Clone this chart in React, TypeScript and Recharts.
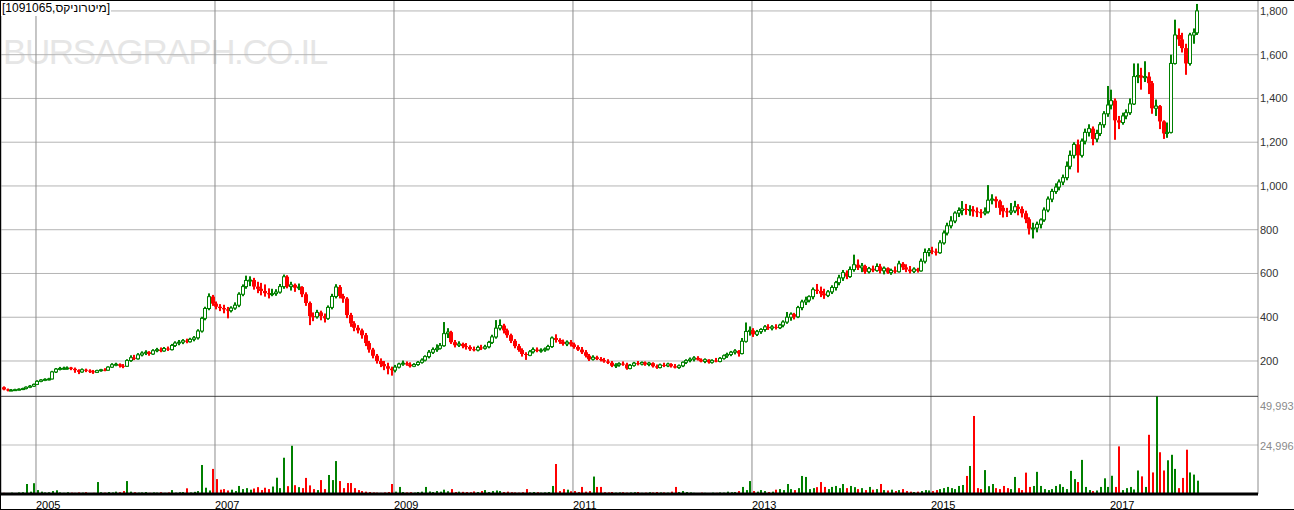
import { ComposedChart, Bar, XAxis, YAxis, CartesianGrid, ReferenceLine } from 'recharts';

// [open, high, low, close, volume] per half-month candle
type Row = [number, number, number, number, number];

const FONT = '"Liberation Sans", Arial, sans-serif';
const UP = '#008000';
const DOWN = '#ff0000';

const TITLE = '[1091065,מיטרוניקס]';
const WATERMARK = 'BURSAGRAPH.CO.IL';

const SLOTS_PER_YEAR = 24;
const YEAR_TICKS = [2005, 2007, 2009, 2011, 2013, 2015, 2017];
const PRICE_TICKS = [200, 400, 600, 800, 1000, 1200, 1400, 1600, 1800];
const VOLUME_TICKS = [24996, 49993];
const TIME_DOMAIN: [number, number] = [2004.609, 2018.654];
const PRICE_DOMAIN: [number, number] = [40, 1850];
const VOLUME_DOMAIN: [number, number] = [0, 49993];

const candles2004: Row[] = [
  [80, 84, 66, 70, 600], [70, 74, 61, 66, 400], [66, 72, 62, 67, 700], [67, 73, 63, 69, 500],
  [69, 75, 65, 71, 800], [71, 78, 67, 74, 900], [74, 84, 70, 80, 5100], [80, 90, 76, 85, 1200],
  [85, 97, 81, 93, 5500],
];

const candles2005: Row[] = [
  [93, 112, 90, 107, 2000], [107, 117, 103, 113, 1200], [113, 121, 108, 116, 800], [116, 123, 111, 118, 900],
  [118, 155, 115, 150, 1500], [150, 168, 145, 163, 1900], [163, 173, 157, 166, 800], [166, 174, 159, 167, 600],
  [167, 175, 160, 168, 900], [170, 173, 158, 164, 700], [164, 170, 146, 158, 600], [158, 162, 140, 150, 800],
  [150, 166, 146, 160, 700], [160, 165, 149, 156, 900], [156, 162, 145, 153, 500], [153, 159, 141, 148, 600],
  [148, 160, 145, 156, 6100], [156, 164, 151, 160, 900], [160, 167, 153, 158, 700], [158, 176, 155, 172, 1000],
  [172, 190, 168, 183, 800], [183, 192, 176, 185, 1200], [185, 189, 170, 178, 900], [178, 186, 167, 176, 1500],
];

const candles2006: Row[] = [
  [176, 208, 173, 202, 6600], [202, 226, 196, 215, 1200], [215, 228, 204, 210, 900], [210, 236, 206, 228, 700],
  [228, 244, 221, 236, 800], [236, 249, 227, 240, 1000], [240, 245, 224, 232, 600], [232, 254, 228, 247, 800],
  [247, 260, 240, 252, 700], [252, 262, 240, 246, 900], [246, 264, 242, 257, 600], [257, 266, 246, 252, 800],
  [252, 278, 248, 271, 2000], [271, 290, 264, 282, 700], [282, 296, 272, 286, 900], [286, 300, 277, 293, 1000],
  [293, 302, 281, 288, 2900], [288, 306, 284, 299, 800], [299, 314, 290, 306, 1100], [306, 345, 298, 337, 1500],
  [337, 402, 330, 395, 14800], [395, 448, 386, 440, 3200], [440, 509, 432, 494, 1800], [494, 502, 452, 462, 12800],
];

const candles2007: Row[] = [
  [462, 472, 436, 448, 7600], [448, 460, 428, 442, 2200], [442, 457, 418, 436, 2500], [436, 447, 395, 430, 1800],
  [430, 450, 422, 442, 2200], [442, 468, 434, 455, 1500], [455, 514, 446, 505, 4100], [505, 550, 496, 540, 2500],
  [540, 590, 530, 568, 3000], [568, 587, 542, 570, 2200], [570, 580, 526, 540, 2800], [540, 562, 510, 530, 3500],
  [530, 557, 500, 520, 2000], [520, 550, 494, 510, 3200], [510, 532, 486, 505, 2500], [505, 530, 496, 508, 3800],
  [508, 528, 498, 515, 8300], [515, 552, 508, 540, 3000], [540, 595, 530, 585, 18500], [585, 592, 532, 540, 4000],
  [540, 562, 522, 548, 24600], [548, 554, 516, 535, 4500], [535, 554, 524, 538, 3500], [538, 542, 492, 505, 3000],
];

const candles2008: Row[] = [
  [505, 514, 452, 465, 8200], [465, 472, 364, 405, 4400], [405, 422, 382, 402, 2500], [402, 434, 394, 422, 2000],
  [422, 430, 386, 405, 7100], [405, 417, 376, 395, 2500], [395, 454, 388, 445, 9700], [445, 507, 436, 495, 7100],
  [495, 551, 486, 538, 16800], [538, 547, 486, 497, 6600], [497, 507, 466, 485, 3000], [485, 492, 396, 410, 5600],
  [410, 420, 356, 372, 5600], [372, 382, 336, 352, 3000], [352, 364, 326, 340, 2000], [340, 348, 302, 318, 1500],
  [318, 328, 268, 282, 1200], [282, 292, 238, 252, 1000], [252, 260, 212, 224, 800], [224, 232, 188, 200, 700],
  [200, 212, 172, 186, 600], [186, 200, 158, 176, 800], [176, 192, 139, 165, 1000], [165, 174, 133, 158, 5100],
];

const candles2009: Row[] = [
  [158, 182, 148, 172, 1200], [172, 192, 166, 186, 3600], [186, 202, 178, 190, 1000], [190, 198, 178, 184, 800],
  [184, 194, 170, 176, 900], [176, 190, 172, 184, 700], [184, 200, 178, 194, 1000], [194, 212, 188, 204, 1200],
  [204, 226, 198, 220, 3600], [220, 250, 212, 240, 1300], [240, 262, 232, 252, 1000], [252, 276, 242, 258, 1500],
  [258, 282, 252, 270, 1200], [270, 378, 265, 325, 2200], [325, 350, 305, 332, 1400], [332, 338, 278, 286, 2500],
  [286, 296, 262, 272, 1000], [272, 290, 264, 278, 1200], [278, 284, 258, 268, 1100], [268, 282, 252, 264, 1000],
  [264, 272, 246, 254, 900], [254, 266, 244, 250, 1300], [250, 270, 244, 262, 1000], [262, 274, 250, 258, 1500],
];

const candles2010: Row[] = [
  [258, 274, 252, 265, 2000], [265, 292, 258, 285, 1000], [285, 320, 278, 310, 1500], [310, 387, 302, 350, 1800],
  [350, 390, 340, 362, 1500], [362, 370, 326, 340, 1000], [340, 348, 306, 318, 1200], [318, 325, 282, 292, 900],
  [292, 300, 258, 268, 800], [268, 278, 242, 250, 700], [250, 258, 220, 232, 900], [232, 240, 205, 228, 2500],
  [226, 250, 222, 242, 800], [242, 262, 234, 252, 1000], [252, 262, 240, 246, 900], [246, 258, 238, 250, 700],
  [250, 262, 242, 255, 800], [255, 274, 248, 266, 1000], [266, 312, 260, 305, 4100], [305, 322, 284, 296, 15300],
  [296, 304, 278, 288, 1500], [288, 298, 270, 278, 2500], [278, 294, 268, 286, 2200], [286, 296, 266, 276, 1400],
];

const candles2011: Row[] = [
  [276, 284, 256, 264, 1500], [264, 272, 246, 252, 1000], [252, 264, 232, 240, 3600], [240, 250, 216, 224, 1200],
  [224, 232, 200, 208, 1500], [208, 226, 202, 217, 8900], [217, 224, 204, 209, 3600], [209, 218, 198, 204, 3600],
  [204, 214, 192, 198, 900], [198, 208, 186, 192, 800], [192, 200, 172, 178, 1000], [178, 190, 168, 182, 700],
  [182, 194, 174, 188, 800], [188, 198, 178, 184, 900], [184, 192, 160, 166, 700], [166, 186, 162, 180, 800],
  [180, 196, 174, 190, 900], [190, 200, 180, 186, 1000], [186, 198, 180, 193, 600], [193, 198, 178, 184, 700],
  [184, 196, 176, 190, 900], [190, 194, 170, 176, 800], [176, 184, 164, 170, 1000], [170, 188, 166, 182, 800],
];

const candles2012: Row[] = [
  [182, 192, 172, 178, 800], [178, 192, 172, 186, 700], [186, 190, 170, 176, 1200], [176, 186, 166, 170, 3600],
  [170, 184, 164, 178, 1000], [178, 198, 172, 194, 1500], [194, 208, 186, 202, 1000], [202, 216, 194, 208, 800],
  [208, 222, 198, 214, 600], [214, 222, 202, 206, 500], [206, 212, 194, 198, 700], [198, 212, 190, 206, 600],
  [206, 208, 188, 194, 500], [194, 208, 188, 202, 700], [202, 214, 194, 198, 600], [198, 218, 194, 212, 800],
  [212, 230, 206, 224, 700], [224, 238, 214, 230, 1200], [230, 246, 222, 240, 900], [240, 254, 230, 246, 1000],
  [246, 250, 220, 234, 1500], [234, 305, 230, 290, 3600], [290, 376, 284, 335, 2000], [335, 358, 316, 340, 6600],
];

const candles2013: Row[] = [
  [340, 350, 310, 322, 1500], [322, 342, 314, 334, 1200], [334, 350, 324, 344, 2000], [344, 364, 334, 356, 1500],
  [356, 368, 342, 350, 1000], [350, 364, 340, 356, 1200], [356, 368, 344, 352, 2200], [352, 370, 346, 364, 2500],
  [364, 386, 354, 378, 2000], [378, 424, 370, 400, 5100], [400, 422, 384, 414, 2500], [414, 420, 390, 402, 2000],
  [402, 452, 396, 444, 3000], [444, 480, 432, 470, 9200], [470, 494, 456, 478, 8700], [478, 500, 468, 494, 2500],
  [494, 536, 482, 526, 3000], [526, 552, 506, 520, 3500], [520, 540, 492, 508, 6100], [508, 530, 484, 500, 3600],
  [500, 524, 492, 516, 2500], [516, 546, 506, 536, 3600], [536, 566, 522, 558, 4100], [558, 594, 546, 580, 3000],
];

const candles2014: Row[] = [
  [580, 616, 566, 604, 5100], [604, 614, 574, 586, 3000], [586, 632, 580, 618, 4100], [618, 686, 608, 640, 3500],
  [640, 664, 616, 626, 2500], [626, 648, 606, 634, 3000], [634, 640, 598, 608, 2000], [608, 630, 600, 622, 3600],
  [622, 636, 606, 614, 2200], [614, 646, 608, 632, 2500], [632, 644, 600, 612, 5100], [612, 632, 596, 624, 2000],
  [624, 628, 598, 604, 1800], [604, 622, 594, 614, 2200], [614, 632, 600, 608, 1500], [608, 658, 604, 644, 2000],
  [644, 652, 616, 628, 2500], [628, 642, 606, 618, 1500], [618, 634, 600, 610, 1200], [610, 628, 602, 620, 1000],
  [620, 626, 604, 612, 1200], [612, 668, 608, 656, 1500], [656, 714, 646, 696, 2000], [696, 716, 678, 704, 1800],
];

const candles2015: Row[] = [
  [704, 722, 688, 700, 1500], [700, 714, 682, 695, 2000], [695, 752, 690, 740, 2500], [740, 797, 732, 785, 3000],
  [785, 832, 774, 818, 3600], [818, 862, 806, 840, 3000], [840, 884, 830, 876, 2500], [876, 902, 858, 888, 4100],
  [888, 931, 866, 895, 4600], [895, 918, 868, 890, 9200], [890, 912, 864, 892, 14300], [892, 908, 860, 884, 39800],
  [884, 902, 858, 880, 3000], [880, 894, 854, 876, 2500], [876, 902, 866, 882, 12200], [882, 1004, 874, 935, 4000],
  [935, 962, 916, 940, 5100], [940, 952, 900, 930, 3000], [930, 937, 868, 900, 2500], [900, 912, 856, 884, 4100],
  [884, 900, 858, 880, 3000], [880, 922, 868, 886, 2500], [886, 932, 876, 905, 8700], [905, 917, 866, 895, 3000],
];

const candles2016: Row[] = [
  [895, 907, 856, 875, 2000], [875, 887, 830, 848, 10900], [848, 857, 778, 805, 3600], [805, 832, 760, 808, 4100],
  [808, 837, 788, 825, 11300], [825, 852, 806, 845, 4100], [845, 902, 836, 890, 2500], [890, 952, 880, 940, 2000],
  [940, 987, 926, 975, 2500], [975, 1012, 964, 995, 4100], [995, 1030, 980, 1018, 5000], [1018, 1052, 1004, 1038, 3600],
  [1038, 1112, 1026, 1090, 2500], [1090, 1162, 1076, 1140, 11800], [1140, 1200, 1126, 1190, 7600], [1190, 1212, 1061, 1140, 6100],
  [1140, 1217, 1130, 1205, 17400], [1205, 1262, 1190, 1245, 3600], [1245, 1282, 1226, 1262, 2000], [1262, 1272, 1186, 1215, 1500],
  [1215, 1257, 1200, 1240, 1800], [1240, 1292, 1228, 1280, 3600], [1280, 1342, 1266, 1330, 8000], [1330, 1457, 1316, 1370, 3600],
];

const candles2017: Row[] = [
  [1370, 1440, 1350, 1390, 9300], [1390, 1400, 1211, 1300, 3600], [1300, 1320, 1260, 1290, 24300], [1290, 1335, 1280, 1320, 2000],
  [1320, 1350, 1305, 1335, 3000], [1335, 1400, 1325, 1375, 3600], [1375, 1560, 1370, 1500, 2300], [1500, 1560, 1470, 1505, 12000],
  [1505, 1540, 1440, 1495, 9000], [1495, 1570, 1475, 1500, 3600], [1500, 1520, 1420, 1470, 30200], [1470, 1480, 1330, 1355, 11000],
  [1355, 1395, 1320, 1365, 49800], [1365, 1370, 1260, 1295, 21300], [1295, 1300, 1215, 1240, 12000], [1240, 1290, 1220, 1245, 17200],
  [1245, 1600, 1240, 1560, 20000], [1560, 1760, 1555, 1690, 12800], [1690, 1720, 1640, 1670, 3000], [1670, 1700, 1610, 1630, 8200],
  [1630, 1650, 1508, 1560, 22600], [1560, 1700, 1550, 1690, 11000], [1690, 1720, 1650, 1700, 9900], [1700, 1832, 1690, 1800, 6800],
];

// 2004 starts in the second half of August (slot 15 of 24)
const yearBlocks = [
  { year: 2004, firstSlot: 15, rows: candles2004 },
  { year: 2005, firstSlot: 0, rows: candles2005 },
  { year: 2006, firstSlot: 0, rows: candles2006 },
  { year: 2007, firstSlot: 0, rows: candles2007 },
  { year: 2008, firstSlot: 0, rows: candles2008 },
  { year: 2009, firstSlot: 0, rows: candles2009 },
  { year: 2010, firstSlot: 0, rows: candles2010 },
  { year: 2011, firstSlot: 0, rows: candles2011 },
  { year: 2012, firstSlot: 0, rows: candles2012 },
  { year: 2013, firstSlot: 0, rows: candles2013 },
  { year: 2014, firstSlot: 0, rows: candles2014 },
  { year: 2015, firstSlot: 0, rows: candles2015 },
  { year: 2016, firstSlot: 0, rows: candles2016 },
  { year: 2017, firstSlot: 0, rows: candles2017 },
];

const chartData = yearBlocks.flatMap(({ year, firstSlot, rows }) =>
  rows.map(([o, h, l, c, v], i) => ({
    t: year + (firstSlot + i + 0.5) / SLOTS_PER_YEAR,
    o,
    h,
    l,
    c,
    v,
    range: [l, h],
  })),
);

const BODY_W = 4;

function CandleShape(props: any) {
  const { x, y, width, height, payload } = props;
  if (!payload || !Number.isFinite(x) || !Number.isFinite(y)) return null;
  const { o, h, l, c } = payload;
  const top = Math.min(y, y + height);
  const span = Math.abs(height);
  const k = h > l ? span / (h - l) : 0;
  const up = c >= o;
  const color = up ? UP : DOWN;
  const left = Math.round(x + width / 2 - BODY_W / 2);
  const mid = left + 1.5;
  const bodyTop = top + (h - Math.max(o, c)) * k;
  const bodyBottom = top + (h - Math.min(o, c)) * k;
  const bodyH = Math.max(bodyBottom - bodyTop, 1);
  return (
    <g>
      <line x1={mid} x2={mid} y1={top} y2={top + span} stroke={color} strokeWidth={1} />
      <line x1={mid + 1} x2={mid + 1} y1={top} y2={top + span} stroke={color} strokeWidth={1} />
      {up ? (
        <rect x={left + 0.5} y={bodyTop} width={BODY_W - 1} height={bodyH} fill="#fff" stroke={color} strokeWidth={1} />
      ) : (
        <rect x={left} y={bodyTop} width={BODY_W} height={bodyH} fill={color} />
      )}
    </g>
  );
}

function VolumeShape(props: any) {
  const { x, y, width, height, payload } = props;
  if (!payload || !Number.isFinite(x) || !Number.isFinite(y)) return null;
  const top = Math.min(y, y + height);
  const left = Math.round(x + width / 2 - 1);
  return <rect x={left} y={top} width={2} height={Math.abs(height)} fill={payload.c >= payload.o ? UP : DOWN} />;
}

const EmptyTick = () => <g />;

const PriceTick = ({ x, y, payload }: any) => (
  <text x={x + 2} y={y + 4} fill="#333" fontSize={11} fontFamily={FONT}>
    {Number(payload.value).toLocaleString('en-US')}
  </text>
);

const VolumeTick = ({ x, y, payload }: any) => (
  <text
    x={x + 2}
    y={y + (payload.value === VOLUME_DOMAIN[1] ? 14 : 5)}
    fill="#8a8a8a"
    fontSize={11}
    fontFamily={FONT}
  >
    {Number(payload.value).toLocaleString('en-US')}
  </text>
);

const YearTick = ({ x, y, payload }: any) => (
  <text x={x} y={y + 14.5} fill="#000" fontSize={11} fontFamily={FONT}>
    {payload.value}
  </text>
);

export default function App() {
  return (
    <div
      style={{
        position: 'absolute',
        left: 0,
        top: 0,
        width: 1294,
        height: 510,
        background: '#fff',
        overflow: 'hidden',
        fontFamily: FONT,
      }}
    >
      <div
        style={{
          position: 'absolute',
          left: 3,
          top: 32,
          fontSize: 35,
          lineHeight: '40px',
          color: '#e6e6e6',
          whiteSpace: 'nowrap',
          letterSpacing: -1.4,
        }}
      >
        {WATERMARK}
      </div>

      <div style={{ position: 'absolute', left: 0, top: 0 }}>
        <ComposedChart width={1294} height={397} data={chartData} margin={{ top: 0, right: 0, bottom: 0, left: 1 }}>
          <CartesianGrid vertical={false} stroke="#b4b4b4" />
          <CartesianGrid horizontal={false} stroke="#8c8c8c" />
          <XAxis
            dataKey="t"
            type="number"
            domain={TIME_DOMAIN}
            allowDataOverflow
            ticks={YEAR_TICKS}
            interval={0}
            height={1}
            tick={<EmptyTick />}
            axisLine={false}
            tickLine={false}
          />
          <YAxis
            orientation="right"
            width={36}
            domain={PRICE_DOMAIN}
            allowDataOverflow
            ticks={PRICE_TICKS}
            interval={0}
            axisLine={false}
            tickLine={false}
            tickSize={0}
            tickMargin={0}
            tick={<PriceTick />}
          />
          <Bar dataKey="range" barSize={3} shape={(p: any) => <CandleShape {...p} />} isAnimationActive={false} />
        </ComposedChart>
      </div>

      <div
        style={{
          position: 'absolute',
          left: 1,
          top: 1,
          padding: '1px 1px 1px 1px',
          fontSize: 12,
          lineHeight: '13px',
          background: '#fff',
          color: '#000',
          whiteSpace: 'nowrap',
        }}
      >
        {TITLE}
      </div>

      <div style={{ position: 'absolute', left: 0, top: 396 }}>
        <ComposedChart width={1294} height={114} data={chartData} margin={{ top: 0, right: 0, bottom: 0, left: 1 }}>
          <CartesianGrid vertical={false} stroke="#bdbdbd" />
          <CartesianGrid horizontal={false} stroke="#8c8c8c" />
          <XAxis
            dataKey="t"
            type="number"
            domain={TIME_DOMAIN}
            allowDataOverflow
            ticks={YEAR_TICKS}
            interval={0}
            height={16}
            axisLine={{ stroke: '#000', strokeWidth: 3 }}
            tickLine={false}
            tickSize={0}
            tickMargin={0}
            tick={<YearTick />}
          />
          <YAxis
            orientation="right"
            width={36}
            domain={VOLUME_DOMAIN}
            allowDataOverflow
            ticks={VOLUME_TICKS}
            interval={0}
            axisLine={false}
            tickLine={false}
            tickSize={0}
            tickMargin={0}
            tick={<VolumeTick />}
          />
          <ReferenceLine y={VOLUME_DOMAIN[1]} stroke="#000" strokeWidth={1} />
          <Bar dataKey="v" barSize={2} shape={(p: any) => <VolumeShape {...p} />} isAnimationActive={false} />
        </ComposedChart>
      </div>

      <div style={{ position: 'absolute', left: 0, top: 0, width: 1294, height: 1, background: '#000' }} />
      <div style={{ position: 'absolute', left: 0, top: 0, width: 1, height: 510, background: '#000' }} />
      <div style={{ position: 'absolute', left: 0, top: 509, width: 1294, height: 1, background: '#000' }} />
    </div>
  );
}
